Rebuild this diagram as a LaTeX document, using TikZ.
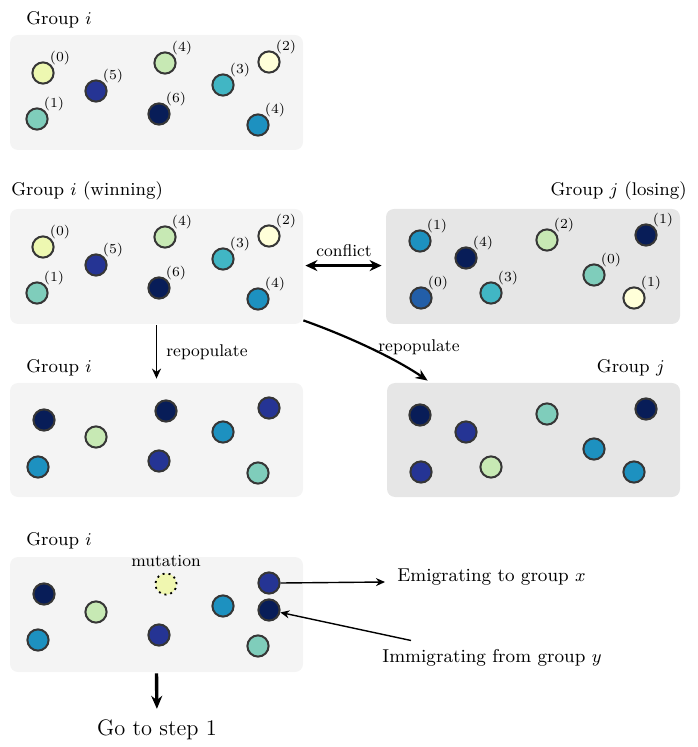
\documentclass[tikz,border=0pt]{standalone}
\usetikzlibrary{arrows.meta,calc}
\definecolor{cYl}{HTML}{FFFFD9}
\definecolor{cZe}{HTML}{EDF8B1}
\definecolor{cLG}{HTML}{C7E9B4}
\definecolor{cTe}{HTML}{7FCDBB}
\definecolor{cCy}{HTML}{41B6C4}
\definecolor{cBl}{HTML}{1D91C0}
\definecolor{cMB}{HTML}{225EA8}
\definecolor{cIn}{HTML}{253494}
\definecolor{cNa}{HTML}{081D58}
\definecolor{cMut}{HTML}{F0F7B0}
\definecolor{ringc}{HTML}{363636}
\definecolor{boxlight}{HTML}{F4F4F4}
\definecolor{boxdark}{HTML}{E6E6E6}
\tikzset{
  ind/.style={circle, draw=ringc, line width=1pt, minimum size=10.6pt, inner sep=0pt},
  boxL/.style={rectangle, rounded corners=4pt, fill=boxlight, minimum width=146.5pt, minimum height=57.5pt, inner sep=0pt},
  boxD/.style={boxL, fill=boxdark},
  grp/.style={font=\fontsize{9.2}{11}\selectfont, inner sep=0pt},
  idx/.style={font=\fontsize{6.9}{8}\selectfont, inner sep=0pt},
  lbl/.style={font=\fontsize{8.5}{10}\selectfont, inner sep=0pt},
  big/.style={font=\fontsize{9.3}{11}\selectfont, inner sep=0pt},
  huge/.style={font=\fontsize{11.2}{13}\selectfont, inner sep=0pt},
}
\newcommand{\pers}[5]{\node[ind, fill=#4] (#1) at (#2,#3) {};
  \node[idx] (#1l) at ([shift={(8.5pt,7.5pt)}]#1.center) {(#5)};}
\newcommand{\persn}[4]{\node[ind, fill=#4] (#1) at (#2,#3) {};}
\begin{document}
\begin{tikzpicture}[x=0.5pt, y=-0.5pt]
\useasboundingbox (0,0) rectangle (697,747);
% boxes
\node[boxL, minimum height=57.5pt] (box1) at (156.5,92.5) {};
\node[boxL] (box2) at (156.5,266.5) {};
\node[boxD, minimum width=147pt] (boxJ) at (533,266.5) {};
\node[boxL, minimum height=57pt] (box3) at (156.5,440) {};
\node[boxD, minimum width=146.5pt, minimum height=57pt] (box4) at (533.5,440) {};
\node[boxL] (box5) at (156.5,614.5) {};
% titles
\node[grp, anchor=base west] (t1) at (26,24.5) {Group $i$};
\node[grp, anchor=base west] (t2) at (11,196) {Group $i$ (winning)};
\node[grp, anchor=base east] (tJ) at (687,196) {Group $j$ (losing)};
\node[grp, anchor=base west] (t3) at (26,372) {Group $i$};
\node[grp, anchor=base east] (t4) at (665,372) {Group $j$};
\node[grp, anchor=base west] (t5) at (26,545) {Group $i$};
% box1
\pers{a0}{43}{73}{cZe}{0}
\pers{a5}{96}{91}{cIn}{5}
\pers{a1}{37}{119}{cTe}{1}
\pers{a4}{165}{63}{cLG}{4}
\pers{a6}{159}{114}{cNa}{6}
\pers{a3}{223}{85}{cCy}{3}
\pers{a2}{269}{62}{cYl}{2}
\pers{a7}{258}{125}{cBl}{4}
% box2
\pers{b0}{43}{247}{cZe}{0}
\pers{b5}{96}{265}{cIn}{5}
\pers{b1}{37}{293}{cTe}{1}
\pers{b4}{165}{237}{cLG}{4}
\pers{b6}{159}{288}{cNa}{6}
\pers{b3}{223}{259}{cCy}{3}
\pers{b2}{269}{236}{cYl}{2}
\pers{b7}{258}{299}{cBl}{4}
% box J
\pers{j1}{420}{241}{cBl}{1}
\pers{j4}{466}{258}{cNa}{4}
\pers{j0}{421}{298}{cMB}{0}
\pers{j3}{491}{293}{cCy}{3}
\pers{j2}{547}{240}{cLG}{2}
\pers{j5}{594}{275}{cTe}{0}
\pers{j6}{646}{235}{cNa}{1}
\pers{j7}{634}{298}{cYl}{1}
% box3
\persn{c0}{44}{420}{cNa}
\persn{c1}{96}{437}{cLG}
\persn{c2}{38}{467}{cBl}
\persn{c3}{166}{411}{cNa}
\persn{c4}{159}{461}{cIn}
\persn{c5}{223}{432}{cBl}
\persn{c6}{269}{408}{cIn}
\persn{c7}{258}{473}{cTe}
% box4
\persn{d0}{420}{415}{cNa}
\persn{d1}{466}{432}{cIn}
\persn{d2}{421}{472}{cIn}
\persn{d3}{491}{467}{cLG}
\persn{d4}{547}{414}{cTe}
\persn{d5}{594}{449}{cBl}
\persn{d6}{646}{409}{cNa}
\persn{d7}{634}{472}{cBl}
% box5
\persn{e0}{44}{594}{cNa}
\persn{e1}{96}{612}{cLG}
\persn{e2}{38}{640}{cBl}
\node[ind, draw=black, dotted, line width=0.9pt, fill=cMut] (emut) at (166,584) {};
\node[lbl, anchor=base] (mut) at (166,566) {mutation};
\persn{e4}{159}{635}{cIn}
\persn{e5}{223}{606}{cBl}
\persn{e6}{269}{583}{cIn}
\persn{e7}{269}{610}{cNa}
\persn{e8}{258}{646}{cTe}
% labels
\node[lbl, anchor=base] (conf) at (344,257) {conflict};
\node[lbl, anchor=base west] (rep1) at (166,357) {repopulate};
\node[lbl, anchor=base west] (rep2) at (378,352) {repopulate};
\node[big, anchor=base west] (emi) at (397,581) {Emigrating to group $x$};
\node[big, anchor=base west] (imm) at (382,662) {Immigrating from group $y$};
\node[huge, anchor=base] (go) at (157,735) {Go to step 1};
% connectors
\draw[line width=1.5pt, {Stealth[length=6pt,width=5.5pt]}-{Stealth[length=6pt,width=5.5pt]}, shorten <=1pt, shorten >=2pt]
  (box2.east |- conf.south) ++(0,8) coordinate (cfa) (cfa) -- (boxJ.west |- cfa);
\draw[line width=0.8pt, -{Stealth[length=5pt,width=4.5pt]}, shorten <=0.5pt, shorten >=2pt] (box2.south) -- (box3.north);
\coordinate (cvs) at ($(box2.south east)+(0,-4)$);
\coordinate (cve) at ($(box4.north west)+(41,-2)$);
\draw[line width=1.1pt, -{Stealth[length=6pt,width=5pt]}] (cvs) .. controls ($(cvs)+(45,16)$) and ($(cve)+(-32,-22)$) .. (cve);
\coordinate (emt) at ($(emi.base west)+(-12,1)$);
\draw[line width=0.7pt, -{Stealth[length=4.5pt,width=4pt]}] (e6.east) -- (emt);
\coordinate (ims) at ($(imm.north west)+(29,-8)$);
\draw[line width=0.7pt, -{Stealth[length=4.5pt,width=4pt]}] (ims) -- (e7);
\draw[line width=1.7pt, -{Stealth[length=6.5pt,width=5.5pt]}, shorten <=0.5pt, shorten >=5pt] (box5.south) -- (go.north);
\end{tikzpicture}
\end{document}
